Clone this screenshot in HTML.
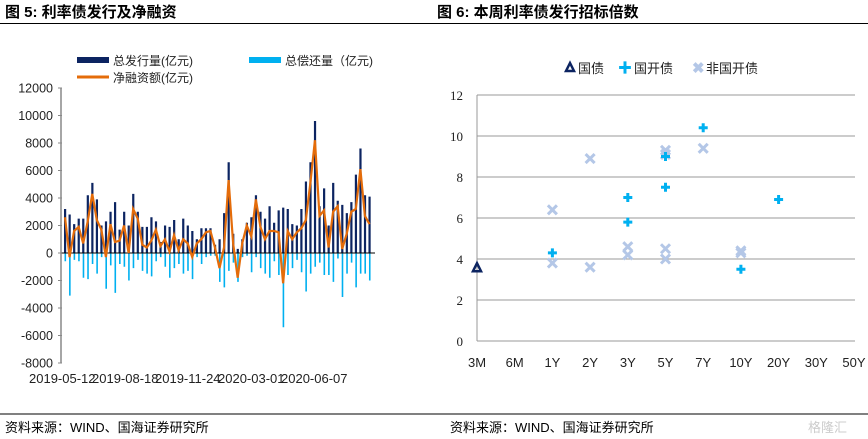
<!DOCTYPE html>
<html><head><meta charset="utf-8">
<style>
body{margin:0;background:#fff;width:868px;height:439px;overflow:hidden;font-family:"Liberation Sans","Noto Sans CJK SC",sans-serif;}
svg{position:absolute;left:0;top:0}
</style></head><body>
<svg id="s" width="868" height="439" xmlns="http://www.w3.org/2000/svg" font-family="Liberation Sans, Noto Sans CJK SC, sans-serif">
<text x="5" y="17" font-size="15" font-weight="bold" fill="#000">图 5:  利率债发行及净融资</text>
<text x="437" y="17" font-size="15" font-weight="bold" fill="#000">图 6:  本周利率债发行招标倍数</text>
<line x1="0" y1="23.5" x2="868" y2="23.5" stroke="#000" stroke-width="1"/>
<line x1="0" y1="414" x2="868" y2="414" stroke="#000" stroke-width="1"/>
<text x="5" y="432" font-size="13" fill="#000">资料来源：WIND、国海证券研究所</text>
<text x="450" y="432" font-size="13" fill="#000">资料来源：WIND、国海证券研究所</text>
<text x="808" y="432" font-size="13" fill="#ccc">格隆汇</text>
<!-- left legend -->
<rect x="77" y="57" width="32" height="6" fill="#0c2461"/>
<text x="113" y="65" font-size="12" fill="#222">总发行量(亿元)</text>
<rect x="249" y="57" width="32" height="6" fill="#00b0f0"/>
<text x="285" y="65" font-size="12" fill="#222">总偿还量（亿元)</text>
<line x1="77" y1="77" x2="109" y2="77" stroke="#e46c0a" stroke-width="3"/>
<text x="113" y="82" font-size="12" fill="#222">净融资额(亿元)</text>
<g id="left"></g>
<!-- right legend -->
<polygon points="566,71 570,63 574,71" fill="none" stroke="#0c2461" stroke-width="2.5"/>
<text x="578" y="73" font-size="13" fill="#222">国债</text>
<text x="618" y="73" font-size="14" font-weight="bold" fill="#00b0f0">✚</text>
<text x="634" y="73" font-size="13" fill="#222">国开债</text>
<text x="692" y="73" font-size="15" font-weight="bold" fill="#b4c7e7">✖</text>
<text x="706" y="73" font-size="13" fill="#222">非国开债</text>
<g id="right"></g>
</svg>
<script>
var NS="http://www.w3.org/2000/svg";
function el(p,t,a,txt){var e=document.createElementNS(NS,t);for(var k in a)e.setAttribute(k,a[k]);if(txt!==undefined)e.textContent=txt;p.appendChild(e);return e;}
var L=document.getElementById('left');
function yL(v){return 253-v*27.5/2000;}
for(var v=-8000;v<=12000;v+=2000){el(L,'text',{x:53,y:yL(v)+4.5,'font-size':12.5,'text-anchor':'end',fill:'#222'},String(v));el(L,'line',{x1:58,x2:62,y1:yL(v),y2:yL(v),stroke:'#888'});}
var iss=[3200,2800,2100,2500,2500,4200,5100,3900,2000,2300,3000,3700,1700,3000,2000,4300,3000,1900,1900,2600,2300,800,2000,1900,2400,1000,2500,2000,1600,1000,1800,1800,1800,600,1000,2900,6600,1400,300,1000,2200,2600,4200,3000,2500,3400,2200,3100,3300,3200,2100,2000,3200,5200,6600,9600,3400,4700,2000,5100,3800,3500,2900,3700,5700,7600,4200,4100];
var rep=[600,3100,500,600,1800,1900,800,1500,300,2600,900,2900,800,1000,2000,1100,500,1300,1500,1700,600,300,1000,1800,1100,800,1500,1300,1900,300,800,300,200,200,2100,2500,1300,700,2100,300,200,1400,300,1100,1500,1800,600,1600,5400,1600,1100,500,1400,2800,1500,1000,700,1600,1600,2100,400,3200,1500,700,2500,1500,1500,2000,1400];
var n=iss.length,x0=64,dx=309/n;
var net=[];
for(var i=0;i<n;i++){var x=x0+i*dx;
el(L,'rect',{x:x,y:yL(iss[i]),width:2.2,height:yL(0)-yL(iss[i]),fill:'#0c2461'});
el(L,'rect',{x:x+0.5,y:yL(0),width:1.6,height:yL(-rep[i])-yL(0),fill:'#00b0f0'});
var nv=iss[i]-rep[i];if(i==55)nv=8200;if(i==48)nv=-2200;net.push((x+1)+','+yL(nv));}
el(L,'line',{x1:61,x2:375,y1:253,y2:253,stroke:'#000'});
el(L,'line',{x1:61,x2:61,y1:88,y2:363,stroke:'#888',"stroke-width":1.5});
el(L,'polyline',{points:net.join(' '),fill:'none',stroke:'#e46c0a','stroke-width':2.2});
var dl=['2019-05-12','2019-08-18','2019-11-24','2020-03-01','2020-06-07'];
for(var i=0;i<5;i++)el(L,'text',{x:29+i*63,y:383,'font-size':13,fill:'#222'},dl[i]);
var R=document.getElementById('right');
function yR(v){return 341-v*20.5;}
for(var v=0;v<=12;v+=2){el(R,'text',{x:463,y:yR(v)+5,'font-size':13,'text-anchor':'end','font-family':'Liberation Serif, serif',fill:'#222'},String(v));if(v>0)el(R,'line',{x1:477,x2:855,y1:yR(v),y2:yR(v),stroke:'#999'});}
el(R,'line',{x1:477,x2:477,y1:95,y2:341,stroke:'#999'});
el(R,'line',{x1:477,x2:855,y1:341,y2:341,stroke:'#999'});
var cats=['3M','6M','1Y','2Y','3Y','5Y','7Y','10Y','20Y','30Y','50Y'];
function xR(i){return 477+i*37.7;}
for(var i=0;i<11;i++)el(R,'text',{x:xR(i),y:367,'font-size':13,'text-anchor':'middle',fill:'#222'},cats[i]);
el(R,'polygon',{points:[xR(0)-4,yR(3.6)+4,xR(0),yR(3.6)-4,xR(0)+4,yR(3.6)+4].join(','),fill:'none',stroke:'#0c2461','stroke-width':2.5});
var cr=[[2,6.4],[2,3.8],[3,8.9],[3,3.6],[4,4.6],[4,4.2],[5,9.3],[5,9.1],[5,4.5],[5,4.0],[6,9.4],[7,4.4],[7,4.3]];
cr.forEach(function(p){var x=xR(p[0]),y=yR(p[1]);el(R,'path',{d:'M'+(x-4.5)+','+(y-4.5)+'L'+(x+4.5)+','+(y+4.5)+'M'+(x+4.5)+','+(y-4.5)+'L'+(x-4.5)+','+(y+4.5),stroke:'#b4c7e7','stroke-width':3});});
var pl=[[2,4.3],[4,7.0],[4,5.8],[5,9.0],[5,7.5],[6,10.4],[7,3.5],[8,6.9]];
pl.forEach(function(p){var x=xR(p[0]),y=yR(p[1]);el(R,'path',{d:'M'+(x-4.5)+','+y+'L'+(x+4.5)+','+y+'M'+x+','+(y-4.5)+'L'+x+','+(y+4.5),stroke:'#00b0f0','stroke-width':3});});
</script>
</body></html>
